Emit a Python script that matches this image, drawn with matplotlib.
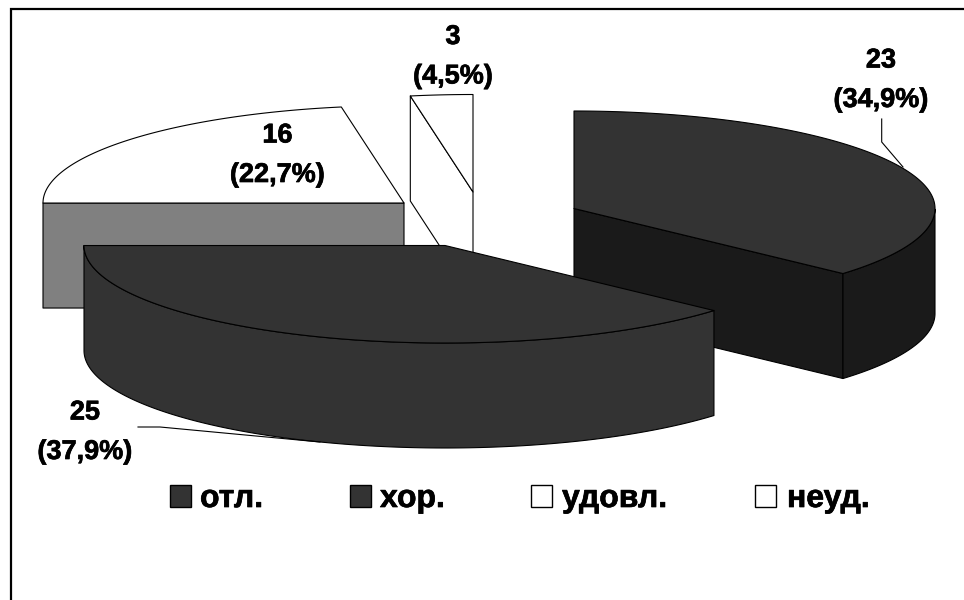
import numpy as np
import matplotlib
matplotlib.use("Agg")
import matplotlib.pyplot as plt
from matplotlib.patches import Polygon, Rectangle
import matplotlib.patheffects as pe

# Grade results: student counts and shares as printed on the slices
grades = ["отл.", "хор.", "удовл.", "неуд."]
counts = [23, 25, 16, 3]
shares = [34.9, 37.9, 22.7, 4.5]

top_colors = ["#333333", "#333333", "#ffffff", "#ffffff"]
side_colors = ["#1a1a1a", "#333333", "#808080", "#ffffff"]

# Exploded slice apexes in pixel space, one per grade
apexes = [(574.0, 208.5), (445.0, 245.5), (404.0, 203.0), (473.0, 192.0)]
RX, RY, DEPTH = 361.0, 97.5, 105.0
# The oblique view widens the on-screen sweep of the front slices a little
view_skew = [6.2, 7.9, 6.2]
# Which cut face of each slice faces the viewer: trailing or leading edge
visible_cut = [-1, None, 0, 0]

plt.rcParams["font.family"] = ["Liberation Sans", "DejaVu Sans"]
plt.rcParams["font.weight"] = "bold"

fig = plt.figure(figsize=(9.64, 6.0), dpi=100, facecolor="white")
ax = fig.add_axes([0, 0, 1, 1])
ax.set_xlim(0, 964)
ax.set_ylim(600, 0)
ax.axis("off")

# Slice boundaries as ellipse parameters, running clockwise from twelve o'clock
cum = np.cumsum(shares)[:-1] * 3.6
edges = [90.0] + [90.0 - c - s for c, s in zip(cum, view_skew)] + [-270.0]
spans = list(zip(edges[:-1], edges[1:]))
heavy = [pe.withStroke(linewidth=0.5, foreground="black")]


def arc(center, t0, t1, n=160):
    t = np.radians(np.linspace(t0, t1, n))
    return t, np.column_stack([center[0] + RX * np.cos(t), center[1] - RY * np.sin(t)])


def draw_shape(points, face, z):
    ax.add_patch(Polygon(points, closed=True, facecolor=face, edgecolor="black",
                         linewidth=0.8, joinstyle="round", zorder=z))


def draw_slice(i, z):
    center = np.array(apexes[i])
    t, rim = arc(center, *spans[i])
    down = np.array([0.0, DEPTH])

    # Cut face running from the apex out to the slice edge
    if visible_cut[i] is not None:
        p = rim[visible_cut[i]]
        draw_shape([center, p, p + down, center + down], side_colors[i], z)

    # Outer wall along the front half of the rim
    front = rim[np.sin(t) <= 1e-9]
    if i < 2 and len(front) > 1:
        draw_shape(np.vstack([front, (front + down)[::-1]]), side_colors[i], z)

    # Top face
    draw_shape(np.vstack([[center], rim]), top_colors[i], z + 0.1)


# Back slices first so the front ones overlap them
for z, i in enumerate([3, 2, 0, 1], start=2):
    draw_slice(i, z)

# Chart frame: only the top and left rules are inside the canvas
ax.plot([11, 11, 964], [600, 9, 9], color="black", lw=1.6, zorder=1,
        solid_joinstyle="miter", clip_on=False)

# Leader lines to the outer labels
ax.plot([881.7, 881.7, 903], [119, 142, 167], color="black", lw=0.8, zorder=8)
ax.plot([138, 160, 320], [427, 427, 442], color="black", lw=0.8, zorder=8)

# Value labels: count above, share in brackets
label_xy = [(881, 80.5), (85, 432.5), (277.5, 155.5), (453, 57)]
for (x, y), n, p in zip(label_xy, counts, shares):
    ax.text(x, y - 20, str(n), ha="center", va="center", fontsize=19.5, zorder=9,
            path_effects=heavy)
    ax.text(x, y + 19.5, "(" + f"{p:.1f}".replace(".", ",") + "%)",
            ha="center", va="center", fontsize=19.5, zorder=9, path_effects=heavy)

# Legend row
swatch_x = [170, 349.5, 530.7, 755]
text_x = [200, 380, 562, 787]
for name, color, sx, tx in zip(grades, top_colors, swatch_x, text_x):
    ax.add_patch(Rectangle((sx, 485), 21, 21.5, facecolor=color, edgecolor="black",
                           linewidth=1.0, zorder=9))
    ax.text(tx, 507, name, ha="left", va="baseline", fontsize=23, zorder=9,
            path_effects=heavy)

fig.savefig("out.png", dpi=100, facecolor="white")
